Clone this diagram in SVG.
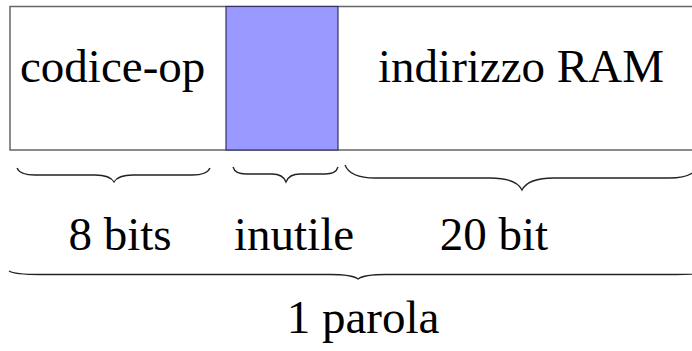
<svg xmlns="http://www.w3.org/2000/svg" width="692" height="351" viewBox="0 0 692 351">
<style>
.t{font-family:'Liberation Serif','Times New Roman',serif;font-size:47px;fill:#000}
.box{fill:#fff;stroke:#666;stroke-width:1.5}
.blue{fill:#9999ff;stroke:#333366;stroke-width:1.2}
.brace{fill:none;stroke:#222;stroke-width:1.3}
</style>
<rect width="692" height="351" fill="#fff"/>
<g id="word">
<rect class="box" x="10" y="6.5" width="700" height="143.5"/>
</g>
<g id="codice-op">
<text class="t" x="20" y="82">codice-op</text>
</g>
<g id="inutile-field">
<rect class="blue" x="226" y="6.5" width="112" height="143.5"/>
</g>
<g id="indirizzo">
<text class="t" x="521" y="82" text-anchor="middle">indirizzo RAM</text>
</g>
<g id="connectors">
<path class="brace" d="M17,168 Q20,175 35,175 L95,175 Q110,175 114,182 Q118,175 133,175 L192,175 Q207,175 210,168"/>
<path class="brace" d="M233,167 Q235,174 246,174 L272,174 Q283,174 286,182 Q289,174 300,174 L325,174 Q336,174 338,167"/>
<path class="brace" d="M345,165 Q350,178 375,178 L490,178 Q516,178 522,190 Q528,178 554,178 L669,178 Q694,178 699,165"/>
<path class="brace" d="M9,271 Q14,274.5 40,274.5 L330,274.5 Q352,274.5 358,279 Q364,274.5 386,274.5 L676,274.5 Q702,274.5 707,271"/>
</g>
<g id="labels">
<text class="t" x="120" y="250" text-anchor="middle">8 bits</text>
<text class="t" x="294" y="250" text-anchor="middle">inutile</text>
<text class="t" x="494" y="250" text-anchor="middle">20 bit</text>
<text class="t" x="363" y="333" text-anchor="middle">1 parola</text>
</g>
</svg>
